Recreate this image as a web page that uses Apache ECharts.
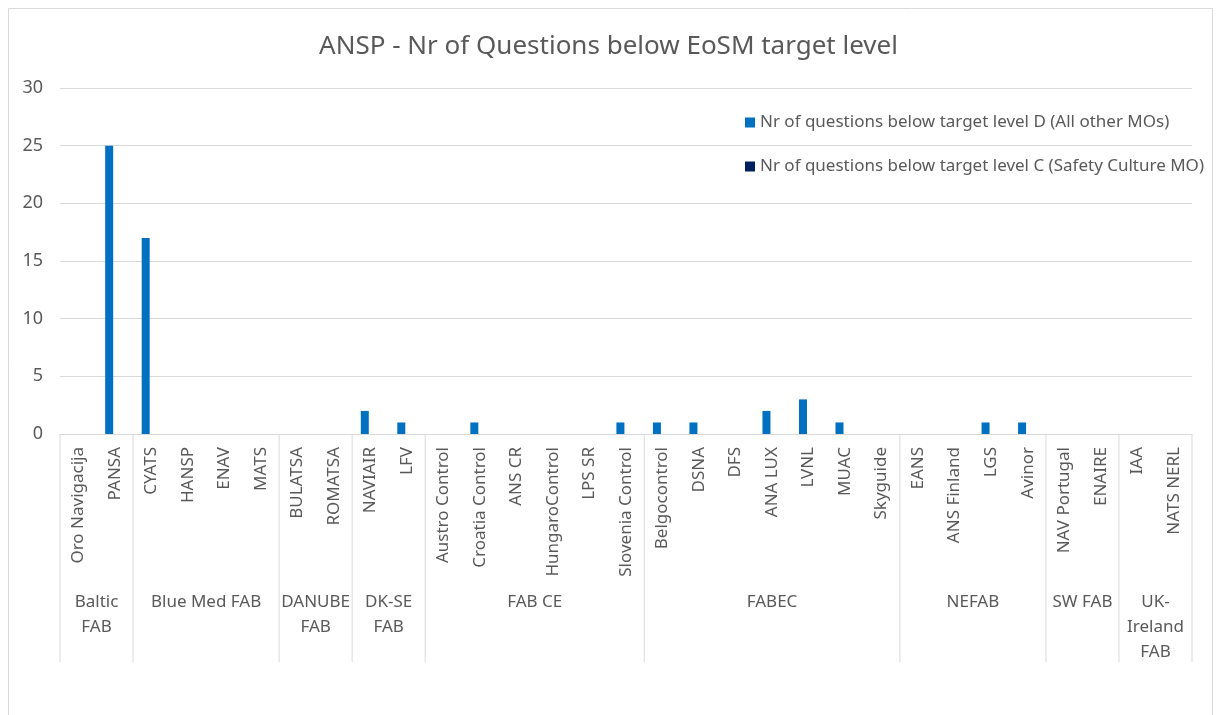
<!DOCTYPE html>
<html>
<head>
<meta charset="utf-8">
<script src="https://cdn.jsdelivr.net/npm/echarts@6/dist/echarts.min.js"></script>
<style>
  html, body { margin: 0; padding: 0; background: #fff; }
  #chart { width: 1217px; height: 715px; }
</style>
</head>
<body>
<div id="chart"></div>
<script>
  // ANSPs in chart order
  var categories = ['Oro Navigacija', 'PANSA', 'CYATS', 'HANSP', 'ENAV', 'MATS', 'BULATSA', 'ROMATSA',
    'NAVIAIR', 'LFV', 'Austro Control', 'Croatia Control', 'ANS CR', 'HungaroControl', 'LPS SR',
    'Slovenia Control', 'Belgocontrol', 'DSNA', 'DFS', 'ANA LUX', 'LVNL', 'MUAC', 'Skyguide',
    'EANS', 'ANS Finland', 'LGS', 'Avinor', 'NAV Portugal', 'ENAIRE', 'IAA', 'NATS NERL'];
  var levelD = [0, 25, 17, 0, 0, 0, 0, 0, 2, 1, 0, 1, 0, 0, 0, 1, 1, 1, 0, 2, 3, 1, 0, 0, 0, 1, 1, 0, 0, 0, 0];
  var levelC = [0, 0, 0, 0, 0, 0, 0, 0, 0, 0, 0, 0, 0, 0, 0, 0, 0, 0, 0, 0, 0, 0, 0, 0, 0, 0, 0, 0, 0, 0, 0];
  // FAB groups (label as wrapped in the chart) and how many ANSPs each holds
  var groupNames = ['Baltic\nFAB', 'Blue Med FAB', 'DANUBE\nFAB', 'DK-SE\nFAB', 'FAB CE', 'FABEC', 'NEFAB', 'SW FAB', 'UK-\nIreland\nFAB'];
  var groupSizes = [2, 4, 2, 2, 6, 7, 4, 2, 2];

  var txt = '#595959';
  var line = '#d9d9d9';
  var font = 'Noto Sans';

  var chart = echarts.init(document.getElementById('chart'));

  var option = {
    backgroundColor: '#fff',
    animation: false,
    textStyle: { fontFamily: font },
    title: {
      text: 'ANSP - Nr of Questions below EoSM target level',
      left: 'center',
      top: 29,
      textStyle: { color: txt, fontSize: 26, fontWeight: 'normal', fontFamily: font }
    },
    legend: {
      orient: 'vertical',
      left: 740,
      top: 109,
      itemWidth: 10,
      itemHeight: 10,
      itemGap: 27,
      icon: 'rect',
      textStyle: { color: txt, fontSize: 17, fontFamily: font }
    },
    grid: { left: 60, right: 25, top: 88, bottom: 281 },
    xAxis: {
      type: 'category',
      data: categories,
      axisLine: { lineStyle: { color: line } },
      axisTick: { show: false },
      axisLabel: { rotate: 90, interval: 0, color: txt, fontSize: 17, margin: 13 }
    },
    yAxis: {
      type: 'value',
      min: 0,
      max: 30,
      interval: 5,
      axisLine: { show: false },
      axisTick: { show: false },
      splitLine: { lineStyle: { color: line } },
      axisLabel: { color: txt, fontSize: 18, margin: 17 }
    },
    series: [
      {
        name: 'Nr of questions below target level D (All other MOs)',
        type: 'bar',
        data: levelD,
        barWidth: 8,
        barGap: '40%',
        itemStyle: { color: '#0070C0' }
      },
      {
        name: 'Nr of questions below target level C (Safety Culture MO)',
        type: 'bar',
        data: levelC,
        barWidth: 8,
        itemStyle: { color: '#002060' }
      }
    ]
  };

  chart.setOption(option);

  // group separators and FAB labels, placed through the category axis
  var c0 = chart.convertToPixel({ xAxisIndex: 0 }, categories[0]);
  var c1 = chart.convertToPixel({ xAxisIndex: 0 }, categories[1]);
  var band = c1 - c0;
  var y0 = chart.convertToPixel({ yAxisIndex: 0 }, 0);
  var graphics = [{
    type: 'rect',
    shape: { x: 8.5, y: 8.5, width: 1204, height: 720 },
    style: { fill: 'none', stroke: line, lineWidth: 1 },
    silent: true
  }];
  var idx = 0;
  for (var g = 0; g < groupNames.length; g++) {
    var left = c0 - band / 2 + idx * band;
    var right = left + groupSizes[g] * band;
    if (g === 0) {
      graphics.push({ type: 'line', shape: { x1: left, y1: y0, x2: left, y2: y0 + 228 }, style: { stroke: line, lineWidth: 1 }, silent: true });
    }
    graphics.push({ type: 'line', shape: { x1: right, y1: y0, x2: right, y2: y0 + 228 }, style: { stroke: line, lineWidth: 1 }, silent: true });
    graphics.push({
      type: 'text',
      x: (left + right) / 2,
      y: y0 + 156,
      style: { text: groupNames[g], fill: txt, font: '17px "' + font + '"', textAlign: 'center', textVerticalAlign: 'top', lineHeight: 25 },
      silent: true
    });
    idx += groupSizes[g];
  }
  chart.setOption({ graphic: graphics });
</script>
</body>
</html>
